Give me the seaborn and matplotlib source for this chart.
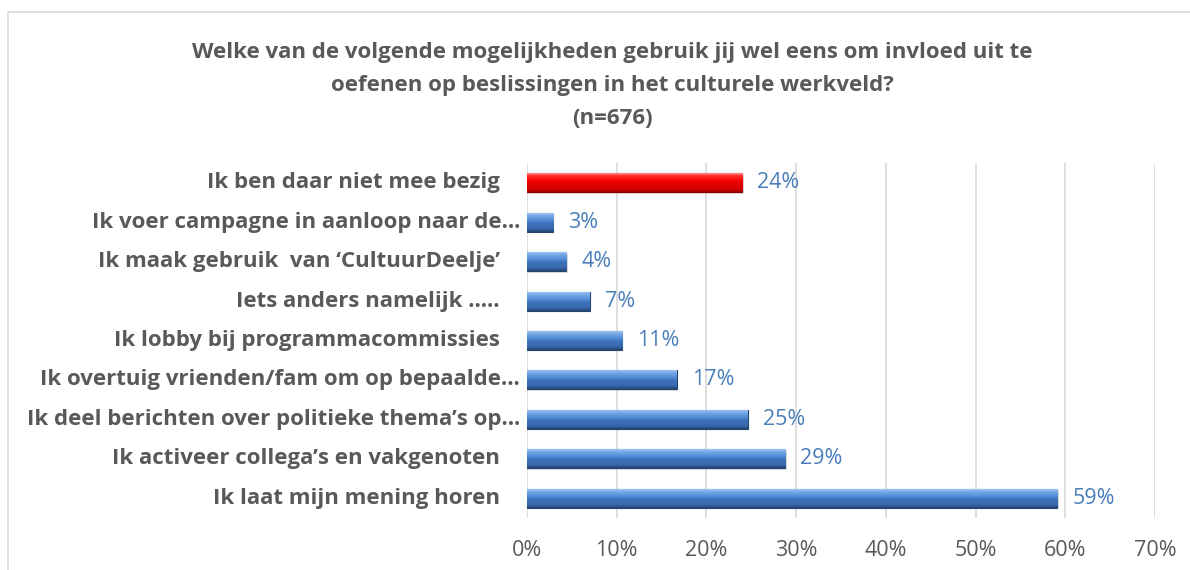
import numpy as np
import pandas as pd
import matplotlib
matplotlib.use("Agg")
import matplotlib.pyplot as plt
import seaborn as sns
from matplotlib.colors import LinearSegmentedColormap
from matplotlib.patches import Rectangle

categories = [
    "Ik ben daar niet mee bezig",
    "Ik voer campagne in aanloop naar de…",
    "Ik maak gebruik  van ‘CultuurDeelje’",
    "Iets anders namelijk …..",
    "Ik lobby bij programmacommissies",
    "Ik overtuig vrienden/fam om op bepaalde…",
    "Ik deel berichten over politieke thema’s op…",
    "Ik activeer collega’s en vakgenoten",
    "Ik laat mijn mening horen",
]
values = [24.0, 2.9, 4.4, 7.0, 10.6, 16.7, 24.6, 28.8, 59.1]
value_labels = ["24%", "3%", "4%", "7%", "11%", "17%", "25%", "29%", "59%"]
highlight = ["Ik ben daar niet mee bezig"]
x_ticks = [0, 10, 20, 30, 40, 50, 60, 70]
title = ("Welke van de volgende mogelijkheden gebruik jij wel eens om invloed uit te\n"
         "oefenen op beslissingen in het culturele werkveld?\n(n=676)")

sns.set_theme(style="white")
plt.rcParams["font.family"] = ["Open Sans", "DejaVu Sans"]

df = pd.DataFrame({"cat": categories, "val": values})
df["grp"] = ["red" if c in highlight else "blue" for c in categories]

fig = plt.figure(figsize=(11.9, 5.7), dpi=100)
ax = fig.add_axes([527/1190, 1-518/570, (1155-527)/1190, (518-163)/570])

sns.barplot(data=df, x="val", y="cat", hue="grp", palette={"blue": "#4F81BD", "red": "#FF0000"},
            orient="h", width=0.48, legend=False, ax=ax, dodge=False)

ax.set_xlim(0, 70)
ax.set_ylim(len(categories) - 0.5, -0.5)
ax.set_xticks(x_ticks)
ax.set_xticklabels([f"{t}%" for t in x_ticks], fontsize=15.5, color="#595959")
ax.tick_params(axis="x", length=0, pad=16)
ax.set_yticks(range(len(categories)))
ax.set_yticklabels([])
ax.tick_params(axis="y", length=0)
ax.set_xlabel("")
ax.set_ylabel("")
for s in ax.spines.values():
    s.set_visible(False)
ax.grid(axis="x", color="#D9D9D9", linewidth=1.2)
ax.set_axisbelow(True)

blue_cmap = LinearSegmentedColormap.from_list("b", [
    (0.0, "#9CC3F0"), (0.12, "#78ABE8"), (0.42, "#4C88D2"), (0.52, "#3F74BA"),
    (0.85, "#3667A9"), (1.0, "#234470")])
red_cmap = LinearSegmentedColormap.from_list("r", [
    (0.0, "#FF9090"), (0.12, "#FF3535"), (0.42, "#F80000"), (0.52, "#E20000"),
    (0.85, "#D80000"), (1.0, "#9E0000")])
grad = np.linspace(0, 1, 64).reshape(-1, 1)

for patch in list(ax.patches):
    x0, y0 = patch.get_x(), patch.get_y()
    w, h = patch.get_width(), patch.get_height()
    if w <= 0:
        continue
    yc = y0 + h / 2
    red = abs(yc - 0) < 0.01
    cmap = red_cmap if red else blue_cmap
    ax.add_patch(Rectangle((x0, y0 + h * 0.08), w + 0.15, h, facecolor="#000000",
                           alpha=0.12, linewidth=0, zorder=1.5))
    im = ax.imshow(grad, cmap=cmap, aspect="auto", extent=(x0, x0 + w, y0 + h, y0),
                   zorder=2.5, interpolation="bilinear")
    im.set_clip_path(patch)
    patch.set_edgecolor("#8B0000" if red else "#24456F")
    patch.set_linewidth(0.8)
    patch.set_zorder(2.4)

ax.set_xlim(0, 70)
ax.set_ylim(len(categories) - 0.5, -0.5)

for i, (v, lab) in enumerate(zip(values, value_labels)):
    ax.annotate(lab, xy=(v, i), xytext=(15, 0), textcoords="offset pixels",
                ha="left", va="center", fontsize=15.5, color="#4A7EBB")

for i, c in enumerate(categories):
    off = -7 if c.endswith("…") else -27
    ax.annotate(c, xy=(0, i), xytext=(off, 0), textcoords="offset pixels",
                xycoords=ax.get_yaxis_transform(), ha="right", va="center",
                fontsize=16, fontweight="bold", color="#595959")

fig.text(612/1190, 1 - 85.5/570, title, ha="center", va="center", fontsize=16,
         fontweight="bold", color="#595959", linespacing=1.75)

fig.patches.append(Rectangle((8/1190, -0.1), 1.2, 1 - 12/570 + 0.1,
                             transform=fig.transFigure, fill=False,
                             edgecolor="#D9D9D9", linewidth=1.2))

fig.savefig("out.png", dpi=100)
